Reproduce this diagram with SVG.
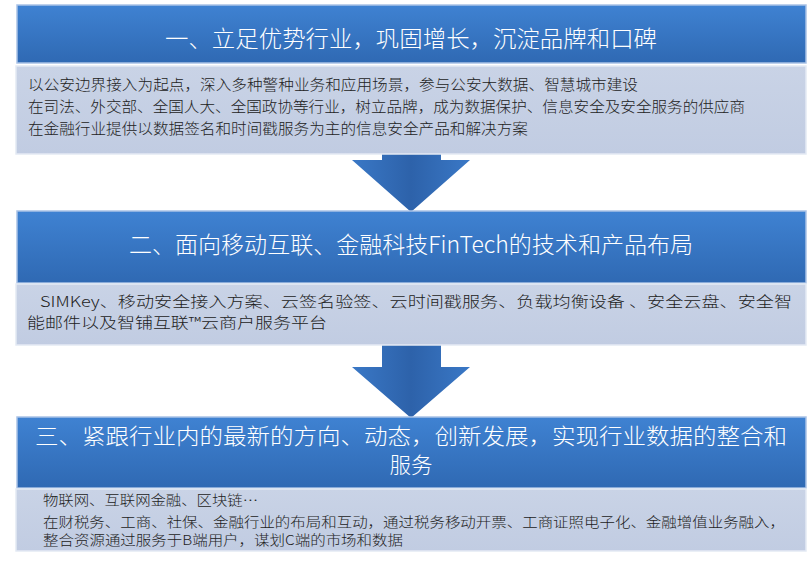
<svg xmlns="http://www.w3.org/2000/svg" width="808" height="562" viewBox="0 0 808 562">
<defs>
<linearGradient id="bar" x1="0" y1="0" x2="0" y2="1"><stop offset="0" stop-color="#3f82d2"/><stop offset="1" stop-color="#2f69b3"/></linearGradient>
<linearGradient id="arr" x1="0" y1="0" x2="1" y2="0"><stop offset="0" stop-color="#3a78c6"/><stop offset="0.5" stop-color="#2d62aa"/><stop offset="1" stop-color="#3a78c6"/></linearGradient>
<linearGradient id="box" x1="0" y1="0" x2="0" y2="1"><stop offset="0" stop-color="#c9d3e6"/><stop offset="1" stop-color="#c1cce2"/></linearGradient>
</defs>
<style>
.bar{fill:url(#bar);stroke:#a9c2e6;stroke-width:1.5}
.box{fill:url(#box);stroke:#e4eaf4;stroke-width:1.5}
.t{font-family:"Noto Sans CJK SC","Liberation Sans",sans-serif;fill:#fff;font-size:23px;font-weight:300}
.t3{font-size:21.5px}
.b{font-family:"Noto Sans CJK SC","Liberation Sans",sans-serif;fill:#222;font-size:14.5px;font-weight:300}
.b3{font-size:13.5px}
.arrow{fill:url(#arr)}
</style>
<rect width="808" height="562" fill="#fff"/>
<g id="connectors">
<path class="arrow" d="M382 140H441V160H470L411 212L352 160H382Z"/>
<path class="arrow" d="M382 340H441V367H470L411 418L352 367H382Z"/>
</g>
<g id="node1">
<rect class="bar" x="17" y="5" width="789" height="58"/>
<text class="t" x="411" y="47" text-anchor="middle" textLength="492" lengthAdjust="spacingAndGlyphs">一、立足优势行业，巩固增长，沉淀品牌和口碑</text>
<rect class="box" x="16" y="66" width="790" height="88"/>
<text class="b" x="28" y="90" textLength="610" lengthAdjust="spacingAndGlyphs">以公安边界接入为起点，深入多种警种业务和应用场景，参与公安大数据、智慧城市建设</text>
<text class="b" x="28" y="112" textLength="717" lengthAdjust="spacingAndGlyphs">在司法、外交部、全国人大、全国政协等行业，树立品牌，成为数据保护、信息安全及安全服务的供应商</text>
<text class="b" x="28" y="134" textLength="500" lengthAdjust="spacingAndGlyphs">在金融行业提供以数据签名和时间戳服务为主的信息安全产品和解决方案</text>
</g>
<g id="node2">
<rect class="bar" x="17" y="211" width="789" height="72"/>
<text class="t" x="411" y="253" text-anchor="middle" textLength="564" lengthAdjust="spacingAndGlyphs">二、面向移动互联、金融科技FinTech的技术和产品布局</text>
<rect class="box" x="16" y="284" width="790" height="61"/>
<text class="b" x="40" y="307" textLength="752" lengthAdjust="spacingAndGlyphs">SIMKey、移动安全接入方案、云签名验签、云时间戳服务、负载均衡设备 、安全云盘、安全智</text>
<text class="b" x="27" y="328" textLength="300" lengthAdjust="spacingAndGlyphs">能邮件以及智铺互联™云商户服务平台</text>
</g>
<g id="node3">
<rect class="bar" x="17" y="417" width="789" height="71"/>
<text class="t t3" x="411" y="444" text-anchor="middle" textLength="752" lengthAdjust="spacingAndGlyphs">三、紧跟行业内的最新的方向、动态，创新发展，实现行业数据的整合和</text>
<text class="t t3" x="411" y="473" text-anchor="middle">服务</text>
<rect class="box" x="16" y="489" width="790" height="62"/>
<text class="b b3" x="43" y="505" textLength="215" lengthAdjust="spacingAndGlyphs">物联网、互联网金融、区块链…</text>
<text class="b b3" x="43" y="527" textLength="742" lengthAdjust="spacingAndGlyphs">在财税务、工商、社保、金融行业的布局和互动，通过税务移动开票、工商证照电子化、金融增值业务融入，</text>
<text class="b b3" x="43" y="545" textLength="360" lengthAdjust="spacingAndGlyphs">整合资源通过服务于B端用户，谋划C端的市场和数据</text>
</g>
</svg>
